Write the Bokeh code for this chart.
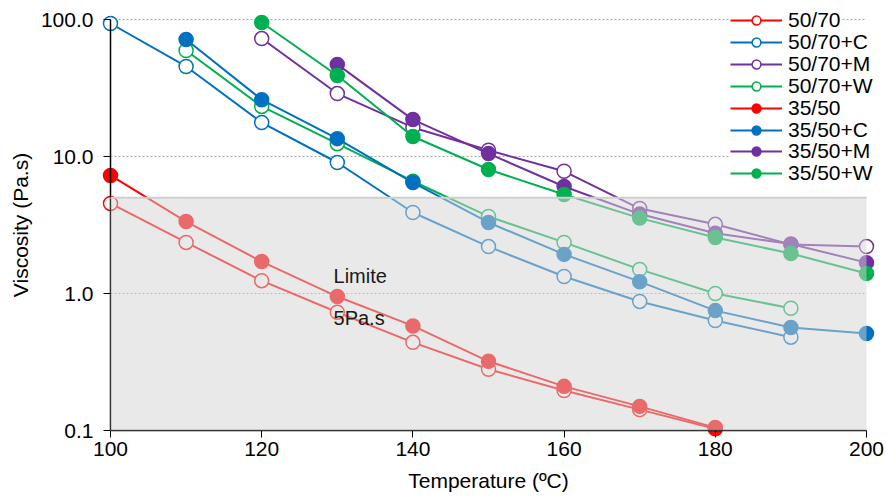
from bokeh.plotting import figure
from bokeh.models import (Legend, LegendItem, BoxAnnotation, FixedTicker,
                          NumeralTickFormatter, Range1d)
from bokeh.core.properties import value
from bokeh.embed import file_html
from bokeh.resources import INLINE

nan = float("nan")

# Viscosity (Pa.s) of each binder against test temperature (ºC)
temperature = [100, 110, 120, 130, 140, 150, 160, 170, 180, 190, 200]

v_50_70   = [4.54, 2.36, 1.24, 0.73, 0.44, 0.28, 0.196, 0.142, 0.103, nan, nan]
v_50_70_C = [93.5, 45.4, 17.7, 9.04, 3.9, 2.2, 1.33, 0.875, 0.635, 0.48, nan]
v_50_70_M = [nan, nan, 72.6, 28.8, 16.3, 11.1, 7.8, 4.17, 3.2, 2.28, 2.2]
v_50_70_W = [nan, 59.4, 23.2, 12.4, 6.6, 3.65, 2.36, 1.5, 1.0, 0.78, nan]
v_35_50   = [7.27, 3.35, 1.71, 0.95, 0.58, 0.32, 0.21, 0.15, 0.105, nan, nan]
v_35_50_C = [nan, 71.5, 26.0, 13.5, 6.45, 3.3, 1.93, 1.22, 0.75, 0.565, 0.51]
v_35_50_M = [nan, nan, nan, 47.0, 18.6, 10.5, 6.04, 3.8, 2.75, 2.3, 1.68]
v_35_50_W = [nan, nan, 95.0, 39.0, 14.0, 8.04, 5.28, 3.55, 2.56, 1.96, 1.40]

series_names = ["50/70", "50/70+C", "50/70+M", "50/70+W",
                "35/50", "35/50+C", "35/50+M", "35/50+W"]
series_values = [v_50_70, v_50_70_C, v_50_70_M, v_50_70_W,
                 v_35_50, v_35_50_C, v_35_50_M, v_35_50_W]
series_colors = ["#ff0000", "#0070c0", "#7030a0", "#00b050",
                 "#ff0000", "#0070c0", "#7030a0", "#00b050"]
series_filled = [False, False, False, False, True, True, True, True]

x_ticks = [100, 120, 140, 160, 180, 200]
y_ticks = [0.1, 1, 10, 100]
grid_levels = [1, 10, 100]
limit_viscosity = 5.0

FONT = "Liberation Sans"

# The frame fills the whole canvas so that edge markers are never cut;
# the axes sit inside it at 100 ºC and 0.1 Pa.s.
# Scale: 7.56 px per ºC, 137 px per decade; 100 ºC at 110 px, 0.1 Pa.s at 430 px.
PX_C = 7.56
PX_DEC = 137.0
W, H = 886, 497
p = figure(width=W, height=H,
           x_range=Range1d(100 - 110 / PX_C, 200 + (W - 866) / PX_C),
           y_range=Range1d(10 ** (-1 - (H - 430) / PX_DEC),
                           10 ** (2 + 19 / PX_DEC)),
           y_axis_type="log", output_backend="svg", toolbar_location=None,
           min_border_left=0, min_border_right=0,
           min_border_top=0, min_border_bottom=0)
p.outline_line_color = None
p.xgrid.visible = False
p.ygrid.visible = False

# dotted horizontal guides at the decades
p.segment(x0=[100] * len(grid_levels), y0=grid_levels,
          x1=[200] * len(grid_levels), y1=grid_levels,
          line_color="#a6a6a6", line_width=1, line_dash="2 2")

items = []
for name, vals, col, filled in zip(series_names, series_values,
                                   series_colors, series_filled):
    r_line = p.line(temperature, vals, line_color=col, line_width=2,
                    line_join="round")
    r_pts = p.scatter(temperature, vals, marker="circle", size=14,
                      line_color=col, line_width=1.5,
                      fill_color=col if filled else "white")
    items.append(LegendItem(label=name, renderers=[r_line, r_pts]))

# shaded region below the 5 Pa.s limit
box = BoxAnnotation(left=100, right=200, bottom=0.1, top=limit_viscosity,
                    fill_color="#d4d4d4", fill_alpha=0.5, line_color=None)
p.add_layout(box)
p.segment(x0=[100], y0=[limit_viscosity], x1=[200], y1=[limit_viscosity],
          line_color="#cfcfcf", line_width=2, level="overlay")

p.text(x=[129.5, 129.5], y=[1.35, 0.657], text=["Limite", "5Pa.s"],
       text_font=value(FONT), text_font_size="20px", text_color="#1a1a1a",
       text_align="left", text_baseline="middle", level="overlay")

# axes
p.xaxis.fixed_location = 0.1
p.xaxis.bounds = (100, 200)
p.xaxis.ticker = FixedTicker(ticks=x_ticks)
p.xaxis.axis_label = "Temperature (ºC)"
p.xaxis.major_label_standoff = 4
p.xaxis.axis_label_standoff = 10

p.yaxis.fixed_location = 100
p.yaxis.bounds = (0.1, 100)
p.yaxis.ticker = FixedTicker(ticks=y_ticks)
p.yaxis.formatter = NumeralTickFormatter(format="0.0")
p.yaxis.axis_label = "Viscosity (Pa.s)"
p.yaxis.major_label_standoff = 10
p.yaxis.axis_label_standoff = 6

for ax in (p.xaxis, p.yaxis):
    ax.axis_line_color = "black"
    ax.axis_line_width = 1.5
    ax.major_tick_line_color = "black"
    ax.major_tick_out = 7
    ax.major_tick_in = 0
    ax.minor_tick_line_color = None
    ax.major_label_text_font = FONT
    ax.major_label_text_font_size = "21px"
    ax.major_label_text_color = "black"
    ax.axis_label_text_font = FONT
    ax.axis_label_text_font_size = "21px"
    ax.axis_label_text_font_style = "normal"
    ax.axis_label_text_color = "black"

# one legend row per series so the rows sit 22 px apart, first row centred at 20 px
ROW_PITCH = 21.9
ROW_HALF = 12
for i, item in enumerate(items):
    row_centre = 20 + ROW_PITCH * i
    leg = Legend(items=[item], location=(730, H - (row_centre + ROW_HALF)),
                 label_text_font=FONT, label_text_font_size="21px",
                 label_text_color="black",
                 glyph_width=52, glyph_height=22, label_height=22,
                 label_standoff=6, spacing=0, padding=0, margin=0,
                 border_line_color=None, background_fill_color="white",
                 background_fill_alpha=1.0)
    p.add_layout(leg)

open("out.html", "w").write(file_html(p, INLINE))
